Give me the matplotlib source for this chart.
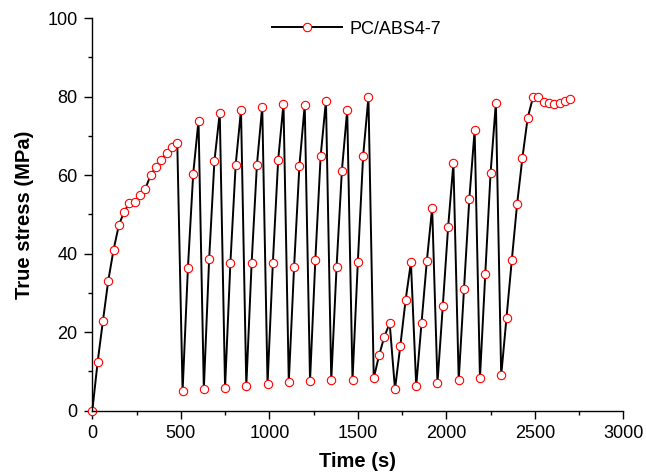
import matplotlib
matplotlib.use("Agg")
import matplotlib.pyplot as plt
from matplotlib.ticker import MultipleLocator

plt.rcParams['font.family'] = ['Liberation Sans', 'DejaVu Sans']

# time (s) and true stress (MPa)
time_s = [0, 30, 60, 90, 120, 150, 180, 210, 240, 270, 300, 330, 360, 390, 420, 450, 480,
          510, 540, 570, 600, 630, 660, 690, 720, 750, 780, 810, 840, 870, 900, 930, 960,
          990, 1020, 1050, 1080, 1110, 1140, 1170, 1200, 1230, 1260, 1290, 1320,
          1350, 1380, 1410, 1440, 1470, 1500, 1530, 1560, 1590, 1620, 1650, 1680,
          1710, 1740, 1770, 1800, 1830, 1860, 1890, 1920, 1950, 1980, 2010, 2040,
          2070, 2100, 2130, 2160, 2190, 2220, 2250, 2280, 2310, 2340, 2370, 2400,
          2430, 2460, 2490, 2520, 2550, 2580, 2610, 2640, 2670, 2700]
stress = [0.0, 12.4, 22.9, 33.1, 41.0, 47.3, 50.7, 53.0, 53.2, 55.0, 56.6, 60.1, 62.1, 64.0, 65.7, 67.3, 68.2,
          5.0, 36.3, 60.4, 73.9, 5.5, 38.6, 63.7, 75.9, 5.9, 37.6, 62.7, 76.6, 6.3, 37.6, 62.7, 77.5,
          6.8, 37.7, 63.9, 78.2, 7.3, 36.7, 62.4, 77.9, 7.6, 38.4, 64.9, 79.0,
          7.8, 36.7, 61.2, 76.6, 7.8, 37.8, 64.9, 79.9, 8.3, 14.1, 18.9, 22.3,
          5.5, 16.5, 28.2, 37.8, 6.3, 22.4, 38.2, 51.7, 7.1, 26.6, 46.7, 63.0,
          7.8, 31.1, 54.0, 71.5, 8.3, 34.8, 60.6, 78.5, 9.0, 23.7, 38.4, 52.7,
          64.5, 74.7, 79.9, 80.0, 78.6, 78.3, 78.2, 78.5, 78.9, 79.5]
series_label = "PC/ABS4-7"

fig = plt.figure(figsize=(6.46, 4.74), dpi=100)
ax = fig.add_axes([0.1429, 0.1335, 0.822, 0.828])

ax.plot(time_s, stress, color='black', lw=1.4, marker='o', ms=6,
        mfc='white', mec='red', mew=0.8, label=series_label, clip_on=False)

ax.set_xlim(0, 3000)
ax.set_ylim(0, 100)
ax.xaxis.set_major_locator(MultipleLocator(500))
ax.xaxis.set_minor_locator(MultipleLocator(250))
ax.yaxis.set_major_locator(MultipleLocator(20))
ax.yaxis.set_minor_locator(MultipleLocator(10))

for side in ['top', 'right']:
    ax.spines[side].set_visible(False)
for side in ['left', 'bottom']:
    ax.spines[side].set_linewidth(1.0)

ax.tick_params(which='major', direction='out', length=5.5, width=1, labelsize=13, pad=5)
ax.tick_params(which='minor', direction='out', length=2.6, width=1)

ax.set_xlabel('Time (s)', fontsize=14.5, fontweight='bold', labelpad=7)
ax.set_ylabel('True stress (MPa)', fontsize=14.5, fontweight='bold', labelpad=10)

ax.legend(loc='center left', bbox_to_anchor=(0.421, 0.9388), bbox_transform=fig.transFigure,
          frameon=False, fontsize=13, handlelength=3.9, handletextpad=0.4,
          borderaxespad=0, borderpad=0)

fig.savefig('out.png', dpi=100)
